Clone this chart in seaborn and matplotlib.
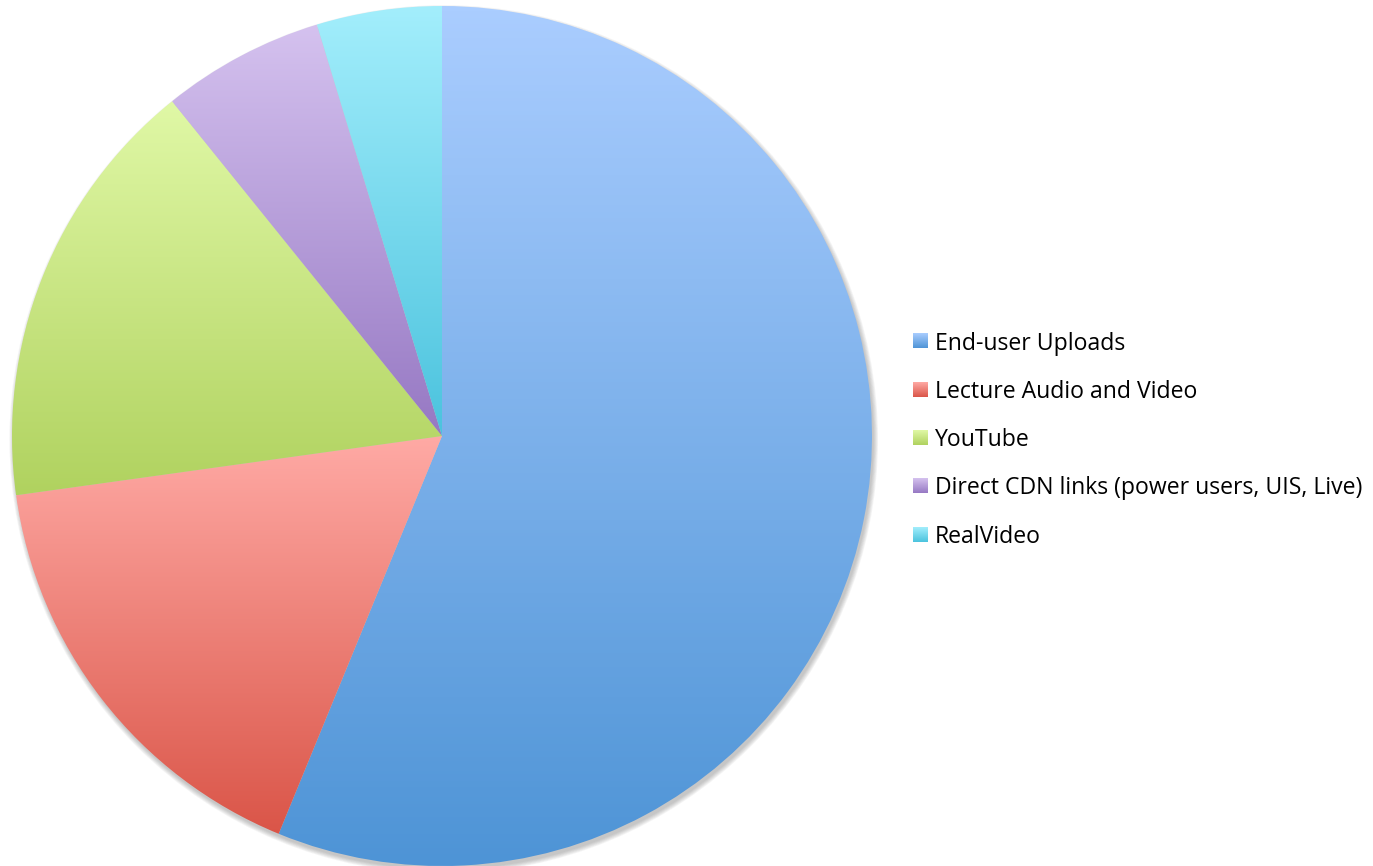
import numpy as np
import matplotlib.pyplot as plt
import seaborn as sns
from matplotlib.patches import Circle

# data (percent of traffic)
categories = ["End-user Uploads", "Lecture Audio and Video", "YouTube",
              "Direct CDN links (power users, UIS, Live)", "RealVideo"]
shares = [56.2, 16.6, 16.4, 6.1, 4.7]

# each slice is filled with a vertical gradient, light on top, dark at the bottom
top_colors = ["#aacdff", "#ffaaa5", "#e0f8a6", "#d5c2ef", "#a3eefc"]
bottom_colors = ["#4e94d6", "#da5548", "#b0d25f", "#9678c3", "#4bc3de"]

sns.set_theme(style="white")
plt.rcParams['font.family'] = ['Open Sans', 'DejaVu Sans']

W, H = 1373, 866
fig = plt.figure(figsize=(W / 100, H / 100), dpi=100)
ax = fig.add_axes([12 / W, 0, 860 / W, 860 / H])

# soft shadow under the pie
for k in range(6):
    ax.add_patch(Circle((0.004, -0.008), 1.0 + 0.002 * k, color="0.3",
                        alpha=0.06, lw=0, zorder=0, clip_on=False))

wedges, _ = ax.pie(shares, startangle=90, counterclock=False, radius=1,
                   wedgeprops=dict(linewidth=0))

grad = np.linspace(0, 1, 256).reshape(-1, 1)
for w, c_top, c_bot in zip(wedges, top_colors, bottom_colors):
    cmap = sns.blend_palette([c_top, c_bot], as_cmap=True)
    bb = w.get_path().get_extents()
    im = ax.imshow(grad, cmap=cmap, origin="upper", aspect="auto",
                   extent=[bb.x0, bb.x1, bb.y0, bb.y1], zorder=1,
                   interpolation="bilinear")
    im.set_clip_path(w)
    w.set_facecolor("none")

ax.set_xlim(-1, 1)
ax.set_ylim(-1, 1)
ax.set_aspect("equal")
ax.axis("off")

# legend drawn on a pixel-coordinate overlay
lax = fig.add_axes([0, 0, 1, 1])
lax.set_xlim(0, W)
lax.set_ylim(H, 0)
lax.axis("off")
for i, (name, c_top, c_bot) in enumerate(zip(categories, top_colors, bottom_colors)):
    y = 341 + 48.3 * i
    cmap = sns.blend_palette([c_top, c_bot], as_cmap=True)
    lax.imshow(grad, cmap=cmap, origin="upper", aspect="auto",
               extent=[913, 928, y + 7.5, y - 7.5], interpolation="bilinear")
    lax.text(935, y + 2.5, name, fontsize=16.6, va="center", ha="left", color="black")
lax.set_xlim(0, W)
lax.set_ylim(H, 0)

fig.savefig("out.png", dpi=100)
